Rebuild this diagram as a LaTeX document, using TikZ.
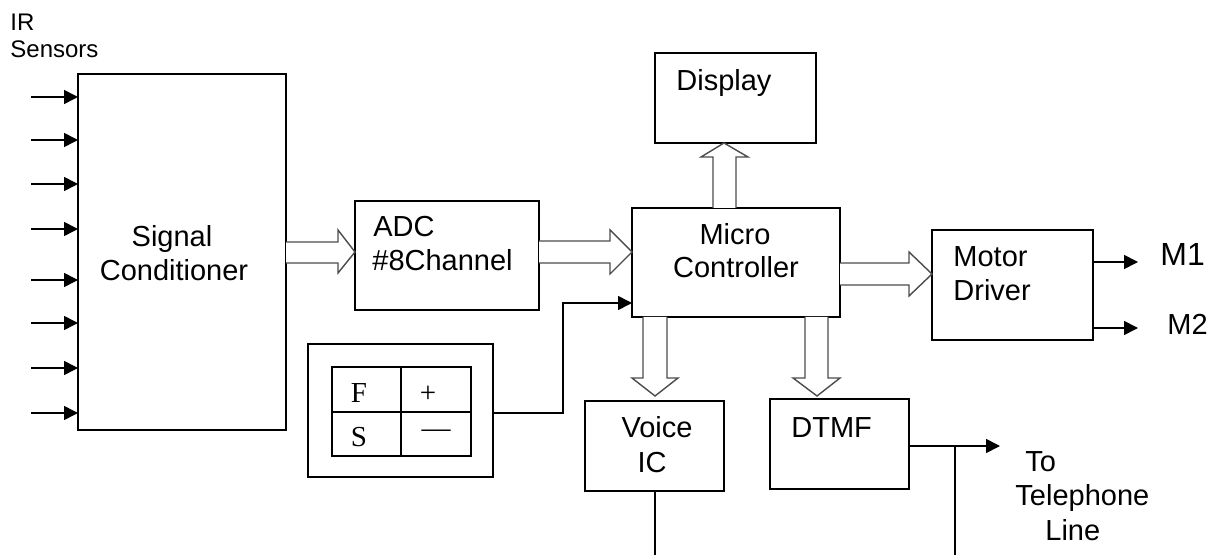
\documentclass[tikz,border=0pt]{standalone}
\usepackage{fontspec}
\setmainfont{Liberation Sans}
\newfontfamily\kpserif{Liberation Serif}
\usetikzlibrary{arrows.meta,calc}
\tikzset{
  box/.style={draw, line width=0.75pt, inner sep=0pt, outer sep=0pt},
  lbl/.style={inner sep=0pt, font=\fontsize{14.5pt}{17pt}\selectfont},
  smalllbl/.style={inner sep=0pt, font=\fontsize{12pt}{14pt}\selectfont},
  kplbl/.style={inner sep=0pt, font=\kpserif\fontsize{14.5pt}{16pt}\selectfont},
  arr/.style={line width=0.8pt, -{Triangle[length=7pt,width=7pt]}},
  wire/.style={line width=0.8pt},
  hollow/.style={draw=black!70, line width=0.7pt, fill=white, line join=miter}
}
\begin{document}
\begin{tikzpicture}[x=0.5pt,y=-0.5pt]
\useasboundingbox (0,0) rectangle (1214,555);

% boxes
\node[box, minimum width=104pt, minimum height=178pt] (sc) at (182,252) {};
\node[box, minimum width=92pt, minimum height=54.5pt] (adc) at (447,255.5) {};
\node[box, minimum width=104pt, minimum height=54.5pt] (mc) at (736,262.5) {};
\node[box, minimum width=80.5pt, minimum height=45pt] (disp) at (735.5,98) {};
\node[box, minimum width=80.5pt, minimum height=55pt] (md) at (1012.5,285) {};
\node[box, minimum width=92.5pt, minimum height=66.5pt] (kpo) at (400.5,410.5) {};
\node[box, minimum width=34.5pt, minimum height=22.5pt] (cf) at (366.5,389.5) {};
\node[box, minimum width=35pt, minimum height=22.5pt] (cp) at (436,389.5) {};
\node[box, minimum width=34.5pt, minimum height=22pt] (cs) at (366.5,434) {};
\node[box, minimum width=35pt, minimum height=22pt] (cm) at (436,434) {};
\node[box, minimum width=69.5pt, minimum height=45pt] (voice) at (654.5,446) {};
\node[box, minimum width=69.5pt, minimum height=45pt] (dtmf) at (839.5,444) {};

% texts
\node[smalllbl, anchor=base west] (tir1) at (10,31) {IR};
\node[smalllbl, anchor=base west] (tir2) at (10,58) {Sensors};
\node[lbl, anchor=base] (tsc1) at (172,247) {Signal};
\node[lbl, anchor=base] (tsc2) at (174,281) {Conditioner};
\node[lbl, anchor=base west] (tadc1) at (373,237) {ADC};
\node[lbl, anchor=base west] (tadc2) at (372,271) {\#8Channel};
\node[lbl, anchor=base] (tmc1) at (735,245) {Micro};
\node[lbl, anchor=base] (tmc2) at (736,278) {Controller};
\node[lbl, anchor=base west] (tdisp) at (676,91) {Display};
\node[lbl, anchor=base west] (tmd1) at (953,267) {Motor};
\node[lbl, anchor=base west] (tmd2) at (953,301) {Driver};
\node[inner sep=0pt, font=\fontsize{16pt}{18pt}\selectfont, anchor=base west] (tm1) at (1160,266) {M1};
\node[lbl, anchor=base west] (tm2) at (1167,335) {M2};
\node[lbl, anchor=base] (tv1) at (657,437) {Voice};
\node[lbl, anchor=base] (tv2) at (652,472) {IC};
\node[lbl, anchor=base west] (tdt) at (791,437) {DTMF};
\node[lbl, anchor=base west] (tto1) at (1025,471) {To};
\node[lbl, anchor=base west] (tto2) at (1015,505) {Telephone};
\node[lbl, anchor=base west] (tto3) at (1045,540) {Line};
\node[kplbl, anchor=base] (tf) at (359,402) {F};
\node[kplbl] (tp) at (428,394) {+};
\node[kplbl, anchor=base] (ts) at (359,446) {S};
\node[kplbl] (tmin) at (436,434) {—};

% IR sensor inputs
\foreach \i/\y in {1/97,2/140,3/184,4/229,5/280,6/323,7/368,8/413}{
  \coordinate (ir\i) at (31,\y);
  \draw[arr] (ir\i) -- (sc.west |- ir\i);
}

% hollow arrows
\draw[hollow] (sc.east |- 0,242) -- (338,242) -- (338,230) -- (adc.west |- 0,252) -- (338,273) -- (338,263) -- (sc.east |- 0,263);
\draw[hollow] (adc.east |- 0,241) -- (610,241) -- (610,230) -- (mc.west |- 0,252) -- (610,274) -- (610,263) -- (adc.east |- 0,263);
\draw[hollow] (mc.east |- 0,263) -- (909,263) -- (909,252) -- (md.west |- 0,274) -- (909,296) -- (909,285) -- (mc.east |- 0,285);
\draw[hollow] (713,0 |- mc.north) -- (713,157) -- (701,157) -- (724,0 |- disp.south) -- (748,157) -- (736,157) -- (736,0 |- mc.north);
\draw[hollow] (643,0 |- mc.south) -- (643,378) -- (632,378) -- (655,396) -- (678,378) -- (667,378) -- (667,0 |- mc.south);
\draw[hollow] (805,0 |- mc.south) -- (805,378) -- (793,378) -- (817,396) -- (840,378) -- (828,378) -- (828,0 |- mc.south);

% keypad to controller
\draw[arr] (kpo.east |- 0,413) -- (563,413) -- (563,303) -- (mc.west |- 0,303);

% motor outputs
\coordinate (m1end) at (1138,262);
\coordinate (m2end) at (1138,328);
\draw[arr] (md.east |- m1end) -- (m1end);
\draw[arr] (md.east |- m2end) -- (m2end);

% telephone line
\coordinate (telend) at (1000,446);
\coordinate (tap) at (955,446);
\coordinate (tapbot) at (955,555);
\coordinate (vbot) at (655,555);
\draw[arr] (dtmf.east |- telend) -- (telend);
\draw[wire] (tap) -- (tapbot);
\draw[wire] (voice.south -| vbot) -- (vbot);
\end{tikzpicture}
\end{document}
